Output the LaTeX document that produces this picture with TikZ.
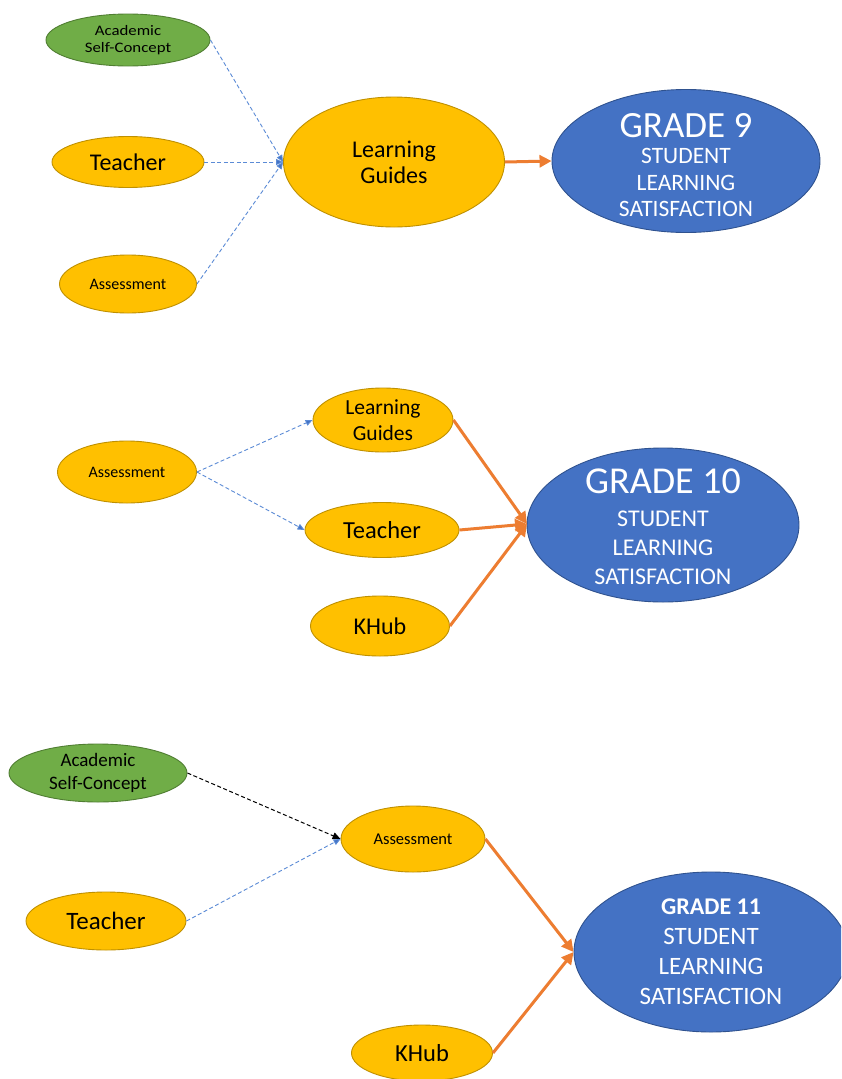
\documentclass[tikz,border=0pt]{standalone}
\usepackage{fontspec}
\setmainfont{Carlito}
\newfontfamily\widesans[FakeStretch=1.16]{Carlito}
\usetikzlibrary{shapes.geometric,arrows.meta}
\definecolor{gold}{HTML}{FFC000}
\definecolor{goldline}{HTML}{BF9000}
\definecolor{leaf}{HTML}{70AD47}
\definecolor{leafline}{HTML}{507E32}
\definecolor{navy}{HTML}{4472C4}
\definecolor{navyline}{HTML}{2F528F}
\definecolor{tang}{HTML}{ED7D31}
\definecolor{dashblue}{HTML}{5B8BD6}
\tikzset{
  oval/.style={ellipse, inner sep=0pt, align=center, line width=0.9pt},
  yel/.style={oval, fill=gold, draw=goldline},
  grn/.style={oval, fill=leaf, draw=leafline},
  blu/.style={oval, inner sep=-25pt, fill=navy, draw=navyline, text=white},
  fsz/.style 2 args={font=\fontsize{#1}{#2}\selectfont},
  dlink/.style={draw=dashblue, line width=0.9pt, dash pattern=on 4pt off 2.5pt,
    -{Triangle[length=7pt,width=6pt,fill=navy]}},
  klink/.style={draw=black, line width=1pt, dash pattern=on 4pt off 2.5pt,
    -{Triangle[length=8pt,width=7pt]}},
  olink/.style={draw=tang, line width=3pt, -{Triangle[length=12pt,width=12pt]}},
}
\begin{document}
\begin{tikzpicture}[x=1pt,y=-1pt]
\useasboundingbox (0,0) rectangle (841,1079);
\fill[white] (0,0) rectangle (841,1079);
\clip (0,0) rectangle (841,1079);

% Grade 9 model
\node[grn, font=\widesans\fontsize{14.5}{17}\selectfont, minimum width=164pt, minimum height=52pt] (asc1) at (128,40)
  {Academic\\Self-Concept};
\node[yel, fsz={24}{28}, minimum width=152pt, minimum height=51pt] (tea1) at (128,162)
  {Teacher};
\node[yel, fsz={16}{19}, minimum width=137pt, minimum height=58pt] (ass1) at (128,284)
  {Assessment};
\node[yel, fsz={24}{26}, minimum width=221pt, minimum height=130pt] (lg1) at (394,162)
  {Learning\\Guides};
\node[blu, fsz={23.5}{26.5}, minimum width=268pt, minimum height=143pt] (g9) at (686,161)
  {\fontsize{37}{38}\selectfont\rule{0pt}{32pt}GRADE 9\\STUDENT\\LEARNING\\SATISFACTION};

\draw[dlink] (asc1.east) -- (lg1.west);
\draw[dlink] (tea1.east) -- (lg1.west);
\draw[dlink] (ass1.east) -- (lg1.west);
\draw[olink] (lg1.east) -- (g9.west);

% Grade 10 model
\node[yel, fsz={16}{19}, minimum width=139pt, minimum height=62pt] (ass2) at (127,472)
  {Assessment};
\node[yel, fsz={21.5}{26}, minimum width=140pt, minimum height=64pt] (lg2) at (383,420)
  {Learning\\Guides};
\node[yel, fsz={24.5}{28}, minimum width=154pt, minimum height=55pt] (tea2) at (382,530)
  {Teacher};
\node[yel, fsz={24}{28}, minimum width=139pt, minimum height=60pt] (kh2) at (380,626)
  {KHub};
\node[blu, fsz={24}{29}, minimum width=272pt, minimum height=154pt] (g10) at (663,525)
  {\fontsize{38}{38}\selectfont\rule{0pt}{29pt}GRADE 10\\[4pt]STUDENT\\LEARNING\\SATISFACTION};

\coordinate (in10) at (527,524);
\draw[dlink] (ass2.east) -- (lg2.west);
\draw[dlink] (ass2.east) -- (tea2.west);
\draw[olink] (lg2.east) -- (in10);
\draw[olink] (tea2.east) -- (in10);
\draw[olink] (kh2.east) -- (in10);

% Grade 11 model
\node[grn, fsz={19}{23}, minimum width=178pt, minimum height=58pt] (asc3) at (98,773)
  {Academic\\Self-Concept};
\node[yel, fsz={25}{28}, minimum width=160pt, minimum height=58pt] (tea3) at (106,921)
  {Teacher};
\node[yel, fsz={16.5}{19}, minimum width=144pt, minimum height=66pt] (ass3) at (413,839)
  {Assessment};
\node[yel, fsz={24.5}{28}, minimum width=141pt, minimum height=56pt] (kh3) at (422,1053)
  {KHub};
\node[blu, fsz={25}{30}, minimum width=274pt, minimum height=160pt] (g11) at (711,952)
  {\bfseries\fontsize{24}{30}\selectfont GRADE 11\\STUDENT\\LEARNING\\SATISFACTION};

\draw[klink] (asc3.east) -- (ass3.west);
\draw[dlink] (tea3.east) -- (ass3.west);
\draw[olink] (ass3.east) -- (g11.west);
\draw[olink] (kh3.east) -- (g11.west);
\end{tikzpicture}
\end{document}
